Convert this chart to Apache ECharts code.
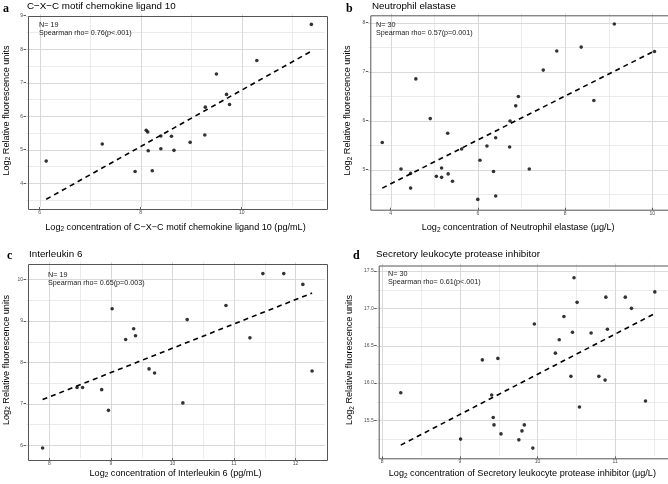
<!DOCTYPE html>
<html>
<head>
<meta charset="utf-8">
<script src="https://cdn.jsdelivr.net/npm/echarts@6.0.0/dist/echarts.min.js"></script>
<style>
  html, body { margin: 0; padding: 0; background: #fff; }
  #main { width: 668px; height: 484px; }
</style>
</head>
<body>
<div id="main"></div>
<script>
// a - CXCL10
const cxclX = [6.13, 7.24, 7.89, 8.11, 8.14, 8.15, 8.23, 8.40, 8.40, 8.61, 8.66, 8.98, 9.27, 9.28, 9.50, 9.70, 9.76, 10.30, 11.38];
const cxclY = [4.66, 5.17, 4.35, 5.58, 5.53, 4.97, 4.37, 5.41, 5.03, 5.40, 4.98, 5.22, 5.44, 6.27, 7.26, 6.65, 6.35, 7.66, 8.74];
const cxclFitX = [6.13, 11.38];
const cxclFitY = [3.52, 7.94];

// b - neutrophil elastase
const neX = [3.81, 4.24, 4.46, 4.46, 4.58, 4.91, 5.05, 5.17, 5.17, 5.31, 5.32, 5.42, 5.63, 6.00, 6.05, 6.21, 6.36, 6.41, 6.41, 6.73, 6.74, 6.87, 6.93, 7.18, 7.50, 7.81, 8.37, 8.66, 9.13, 10.05];
const neY = [5.55, 5.01, 4.62, 4.92, 6.85, 6.04, 4.86, 5.03, 4.84, 5.74, 4.91, 4.76, 5.42, 4.39, 5.19, 5.48, 4.96, 5.65, 4.46, 5.46, 5.99, 6.30, 6.49, 5.01, 7.03, 7.42, 7.50, 6.41, 7.97, 7.41];
const neFitX = [3.81, 10.05];
const neFitY = [4.62, 7.42];

// c - IL-6
const il6X = [7.89, 8.45, 8.54, 8.85, 8.96, 9.02, 9.24, 9.37, 9.40, 9.62, 9.71, 10.17, 10.24, 10.87, 11.26, 11.47, 11.81, 12.12, 12.27];
const il6Y = [5.93, 7.39, 7.39, 7.34, 6.84, 9.29, 8.55, 8.81, 8.64, 7.84, 7.74, 7.02, 9.03, 9.37, 8.59, 10.14, 10.14, 9.88, 7.79];
const il6FitX = [7.89, 12.27];
const il6FitY = [7.10, 9.67];

// d - SLPI
const slpiX = [8.24, 9.01, 9.29, 9.41, 9.43, 9.44, 9.49, 9.53, 9.76, 9.80, 9.83, 9.94, 9.96, 10.23, 10.28, 10.34, 10.43, 10.45, 10.47, 10.51, 10.54, 10.69, 10.79, 10.87, 10.88, 10.90, 11.13, 11.21, 11.39, 11.51];
const slpiY = [15.87, 15.25, 16.31, 15.84, 15.54, 15.44, 16.33, 15.32, 15.24, 15.36, 15.44, 15.13, 16.79, 16.40, 16.58, 16.89, 16.09, 16.68, 17.41, 17.08, 15.68, 16.67, 16.09, 16.04, 17.15, 16.72, 17.15, 17.00, 15.76, 17.22];
const slpiFitX = [8.24, 11.51];
const slpiFitY = [15.17, 16.93];

// ticks
const cxclXTicks = [6, 8, 10], cxclXMinor = [7, 9, 11];
const cxclYTicks = [4, 5, 6, 7, 8, 9], cxclYMinor = [3.5, 4.5, 5.5, 6.5, 7.5, 8.5];
const neXTicks = [4, 6, 8, 10], neXMinor = [5, 7, 9];
const neYTicks = [5, 6, 7, 8], neYMinor = [4.5, 5.5, 6.5, 7.5];
const il6XTicks = [8, 9, 10, 11, 12], il6XMinor = [8.5, 9.5, 10.5, 11.5];
const il6YTicks = [6, 7, 8, 9, 10], il6YMinor = [6.5, 7.5, 8.5, 9.5];
const slpiXTicks = [8, 9, 10, 11], slpiXMinor = [8.5, 9.5, 10.5, 11.5];
const slpiYTicks = [15.5, 16, 16.5, 17, 17.5], slpiYMinor = [15.25, 15.75, 16.25, 16.75, 17.25];

const SANS = "'Liberation Sans', Arial, sans-serif";
const YNAME = '{n|Log}{s|2}{n| Relative fluorescence units}';

const panels = [
    {
        letter: 'a', title: 'C\u2212X\u2212C motif chemokine ligand 10',
        xs: cxclX, ys: cxclY, fx: cxclFitX, fy: cxclFitY,
        n: 19, rho: 'Spearman rho= 0.76(p<.001)',
        xName: '{n|Log}{s|2}{n| concentration of C\u2212X\u2212C motif chemokine ligand 10 (pg/mL)}',
        xTicks: cxclXTicks, xMinor: cxclXMinor, yTicks: cxclYTicks, yMinor: cxclYMinor,
        grid: { left: 26, top: 14, width: 299, height: 193 },
        xMin: 5.73, xMax: 11.65, yMin: 3.29, yMax: 9.05,
        xGap: 14, yGap: 14,
        letterPos: [3, 3], titlePos: [27, 1], notePos: [39, 21]
    },
    {
        letter: 'b', title: 'Neutrophil elastase',
        xs: neX, ys: neY, fx: neFitX, fy: neFitY,
        n: 30, rho: 'Spearman rho= 0.57(p=0.001)',
        xName: '{n|Log}{s|2}{n| concentration of Neutrophil elastase (\u03bcg/L)}',
        xTicks: neXTicks, xMinor: neXMinor, yTicks: neYTicks, yMinor: neYMinor,
        grid: { left: 368.3, top: 13.3, width: 300, height: 194.4 },
        xMin: 3.49, xMax: 10.36, yMin: 4.22, yMax: 8.19,
        xGap: 14, yGap: 15,
        letterPos: [346, 3], titlePos: [372, 1], notePos: [376, 21]
    },
    {
        letter: 'c', title: 'Interleukin 6',
        xs: il6X, ys: il6Y, fx: il6FitX, fy: il6FitY,
        n: 19, rho: 'Spearman rho= 0.65(p=0.003)',
        xName: '{n|Log}{s|2}{n| concentration of Interleukin 6 (pg/mL)}',
        xTicks: il6XTicks, xMinor: il6XMinor, yTicks: il6YTicks, yMinor: il6YMinor,
        grid: { left: 26, top: 262, width: 299, height: 196 },
        xMin: 7.62, xMax: 12.48, yMin: 5.69, yMax: 10.42,
        xGap: 9, yGap: 14,
        letterPos: [7, 250], titlePos: [29, 249], notePos: [48, 271]
    },
    {
        letter: 'd', title: 'Secretory leukocyte protease inhibitor',
        xs: slpiX, ys: slpiY, fx: slpiFitX, fy: slpiFitY,
        n: 30, rho: 'Spearman rho= 0.61(p<.001)',
        xName: '{n|Log}{s|2}{n| concentration of Secretory leukocyte protease inhibitor (\u03bcg/L)}',
        xTicks: slpiXTicks, xMinor: slpiXMinor, yTicks: slpiYTicks, yMinor: slpiYMinor,
        grid: { left: 376.7, top: 263.5, width: 292, height: 192.8 },
        xMin: 7.93, xMax: 11.68, yMin: 15.02, yMax: 17.60,
        xGap: 11, yGap: 21, yFmt: v => v.toFixed(1),
        letterPos: [353, 250], titlePos: [376, 249], notePos: [388, 270]
    }
];

const nameRich = {
    n: { fontSize: 9.1, fontFamily: SANS, color: '#000' },
    s: { fontSize: 6.5, fontFamily: SANS, color: '#000', padding: [5, 0, 0, 0] }
};

const MAJOR = { stroke: '#d9d9d9', lineWidth: 1.1 };
const MINOR = { stroke: '#e6e6e6', lineWidth: 0.8 };

function axis(i, dim, p) {
    const isX = dim === 'x';
    const ticks = isX ? p.xTicks : p.yTicks;
    return {
        gridIndex: i, type: 'value',
        position: isX ? 'bottom' : 'left',
        min: isX ? p.xMin : p.yMin,
        max: isX ? p.xMax : p.yMax,
        name: isX ? p.xName : YNAME,
        nameLocation: 'middle',
        nameGap: isX ? p.xGap : p.yGap,
        nameTextStyle: { rich: nameRich },
        axisLine: { show: false },
        axisTick: { show: true, length: 2.5, lineStyle: { color: '#333', width: 0.8 }, customValues: ticks },
        axisLabel: {
            customValues: ticks, fontSize: 5, color: '#4d4d4d', fontFamily: SANS, margin: 3,
            formatter: (!isX && p.yFmt) ? p.yFmt : (v => String(v))
        },
        splitLine: { show: false }
    };
}

const grid = [], xAxis = [], yAxis = [], series = [], graphic = [];

panels.forEach((p, i) => {
    grid.push(Object.assign({ show: false }, p.grid));
    xAxis.push(axis(i, 'x', p));
    yAxis.push(axis(i, 'y', p));

    series.push({
        type: 'scatter', xAxisIndex: i, yAxisIndex: i,
        symbolSize: 3.6, itemStyle: { color: '#000' },
        data: p.xs.map((x, k) => [x, p.ys[k]]),
        z: 3
    });
    series.push({
        type: 'line', xAxisIndex: i, yAxisIndex: i,
        symbol: 'none', silent: true,
        lineStyle: { color: '#000', width: 1.6, type: [5, 4] },
        data: p.fx.map((x, k) => [x, p.fy[k]]),
        z: 4
    });

    // panel border
    graphic.push({
        type: 'rect', left: p.grid.left, top: p.grid.top, z: 5, silent: true,
        shape: { width: p.grid.width, height: p.grid.height },
        style: { fill: 'none', stroke: '#555', lineWidth: 1 }
    });
    graphic.push({
        type: 'text', left: p.letterPos[0], top: p.letterPos[1],
        style: { text: p.letter, fontSize: 12, fontWeight: 'bold', fontFamily: "'Liberation Serif', 'Times New Roman', serif", fill: '#000' }
    });
    graphic.push({
        type: 'text', left: p.titlePos[0], top: p.titlePos[1],
        style: { text: p.title, fontSize: 9.8, fontFamily: SANS, fill: '#000' }
    });
    graphic.push({
        type: 'text', left: p.notePos[0], top: p.notePos[1],
        style: { text: 'N= ' + p.n + '\n' + p.rho, fontSize: 7.2, lineHeight: 7.8, fontFamily: SANS, fill: '#1a1a1a' },
        z: 10
    });
});

const myChart = echarts.init(document.getElementById('main'), null, { renderer: 'canvas' });
myChart.setOption({
    animation: false,
    backgroundColor: '#fff',
    grid, xAxis, yAxis, series
});

// theme_bw grid lines: tick values mapped through each panel's axes
const gridLines = [];
panels.forEach((p, i) => {
    const g = p.grid;
    const vLine = (v, st) => {
        const px = Math.round(myChart.convertToPixel({ xAxisIndex: i }, v)) + 0.5;
        gridLines.push({ type: 'line', silent: true, z: 0,
            shape: { x1: px, y1: g.top, x2: px, y2: g.top + g.height }, style: st });
    };
    const hLine = (v, st) => {
        const py = Math.round(myChart.convertToPixel({ yAxisIndex: i }, v)) + 0.5;
        gridLines.push({ type: 'line', silent: true, z: 0,
            shape: { x1: g.left, y1: py, x2: g.left + g.width, y2: py }, style: st });
    };
    p.xMinor.forEach(v => vLine(v, MINOR));
    p.yMinor.forEach(v => hLine(v, MINOR));
    p.xTicks.forEach(v => vLine(v, MAJOR));
    p.yTicks.forEach(v => hLine(v, MAJOR));
});

myChart.setOption({ graphic: gridLines.concat(graphic) });
</script>
</body>
</html>
